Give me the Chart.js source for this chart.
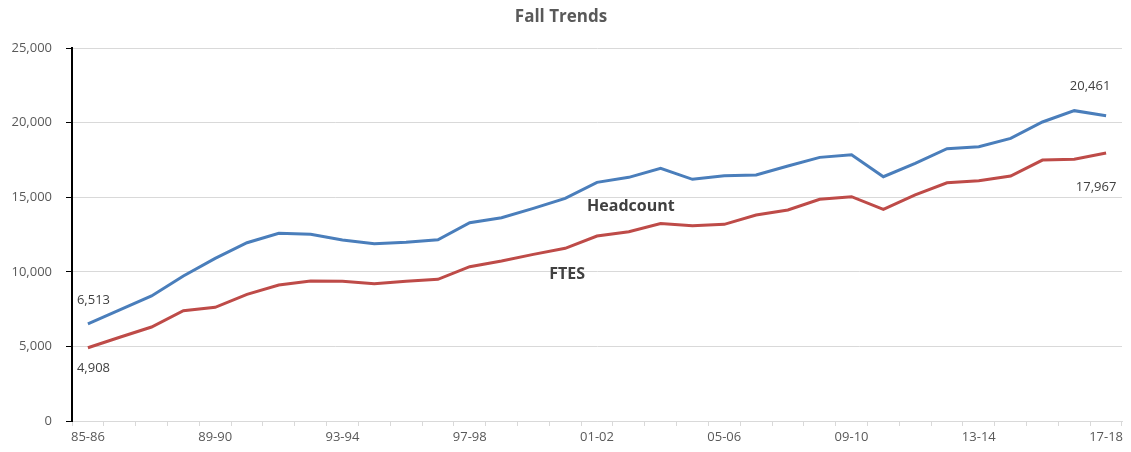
<!DOCTYPE html>
<html><head><meta charset="utf-8">
<script src="https://cdn.jsdelivr.net/npm/chart.js@4/dist/chart.umd.min.js"></script>
<style>html,body{margin:0;padding:0;background:#fff}#w{width:1131px;height:452px}</style>
</head><body><div id="w"><canvas id="c" width="1131" height="452"></canvas></div>
<script>
const categories = ["85-86","86-87","87-88","88-89","89-90","90-91","91-92","92-93","93-94","94-95","95-96","96-97","97-98","98-99","99-00","00-01","01-02","02-03","03-04","04-05","05-06","06-07","07-08","08-09","09-10","10-11","11-12","12-13","13-14","14-15","15-16","16-17","17-18"];
const headcount = [6513,7440,8380,9720,10900,11950,12580,12510,12130,11885,11975,12150,13290,13625,14250,14920,15995,16330,16935,16200,16440,16490,17090,17670,17850,16375,17270,18250,18385,18945,20040,20800,20461];
const ftes = [4908,5610,6300,7395,7620,8490,9115,9383,9360,9200,9360,9495,10340,10725,11170,11575,12400,12690,13240,13090,13180,13810,14140,14860,15035,14190,15150,15970,16110,16420,17490,17540,17967];
const yTicks = [0,5000,10000,15000,20000,25000];
const FONT = "'Open Sans', sans-serif";
const fmt = v => v.toLocaleString('en-US');

const labelPlugin = {
  id: 'labels',
  afterDatasetsDraw(chart) {
    const ctx = chart.ctx;
    const m0 = chart.getDatasetMeta(0).data, m1 = chart.getDatasetMeta(1).data;
    const n = categories.length - 1;
    ctx.save();
    ctx.textBaseline = 'middle';
    ctx.fillStyle = '#404040';
    ctx.font = "13px " + FONT;
    ctx.textAlign = 'left';
    ctx.fillText(fmt(headcount[0]), m0[0].x - 11, m0[0].y - 24);
    ctx.fillText(fmt(ftes[0]), m1[0].x - 11, m1[0].y + 21);
    ctx.textAlign = 'center';
    ctx.fillText(fmt(headcount[n]), m0[n].x - 16, m0[n].y - 29);
    ctx.fillText(fmt(ftes[n]), m1[n].x - 10, m1[n].y + 34);
    ctx.font = "bold 16px " + FONT;
    ctx.fillText('Headcount', m0[17].x + 2, m0[17].y + 29);
    ctx.fillText('FTES', m1[15].x + 2, m1[15].y + 26);
    ctx.restore();
  }
};

new Chart(document.getElementById('c'), {
  type: 'line',
  data: {
    labels: categories,
    datasets: [
      {label: 'Headcount', data: headcount, borderColor: '#4a7ebb', borderWidth: 3, pointRadius: 0, tension: 0},
      {label: 'FTES', data: ftes, borderColor: '#be4b48', borderWidth: 3, pointRadius: 0, tension: 0}
    ]
  },
  options: {
    responsive: false,
    animation: false,
    layout: {padding: {left: 0, right: 9, top: 0, bottom: 0}},
    plugins: {
      legend: {display: false},
      tooltip: {enabled: false},
      title: {display: true, text: 'Fall Trends', color: '#595959',
        font: {family: FONT, size: 17, weight: 'bold', lineHeight: 1.2},
        padding: {top: 7, bottom: 20.6}}
    },
    scales: {
      x: {
        offset: true,
        grid: {display: true, drawOnChartArea: false, drawTicks: true, tickLength: 5, tickColor: '#d9d9d9', offset: true},
        border: {display: true, color: '#d9d9d9', width: 1},
        ticks: {autoSkip: false, maxRotation: 0, minRotation: 0, padding: 3, color: '#595959',
          font: {family: FONT, size: 13},
          callback: (v, i) => (i % 4 === 0 ? categories[i] : '')},
        afterFit: s => { s.height = 31; }
      },
      y: {
        min: 0, max: 25000,
        afterBuildTicks: s => { s.ticks = yTicks.map(v => ({value: v})); },
        grid: {color: '#d9d9d9', lineWidth: 1, tickLength: 6, tickColor: '#000', drawTicks: true},
        border: {display: true, color: '#000', width: 2},
        ticks: {color: '#595959', padding: 14, font: {family: FONT, size: 13}, callback: v => fmt(v)},
        afterFit: s => { s.width = 72; }
      }
    }
  },
  plugins: [labelPlugin]
});
</script></body></html>
